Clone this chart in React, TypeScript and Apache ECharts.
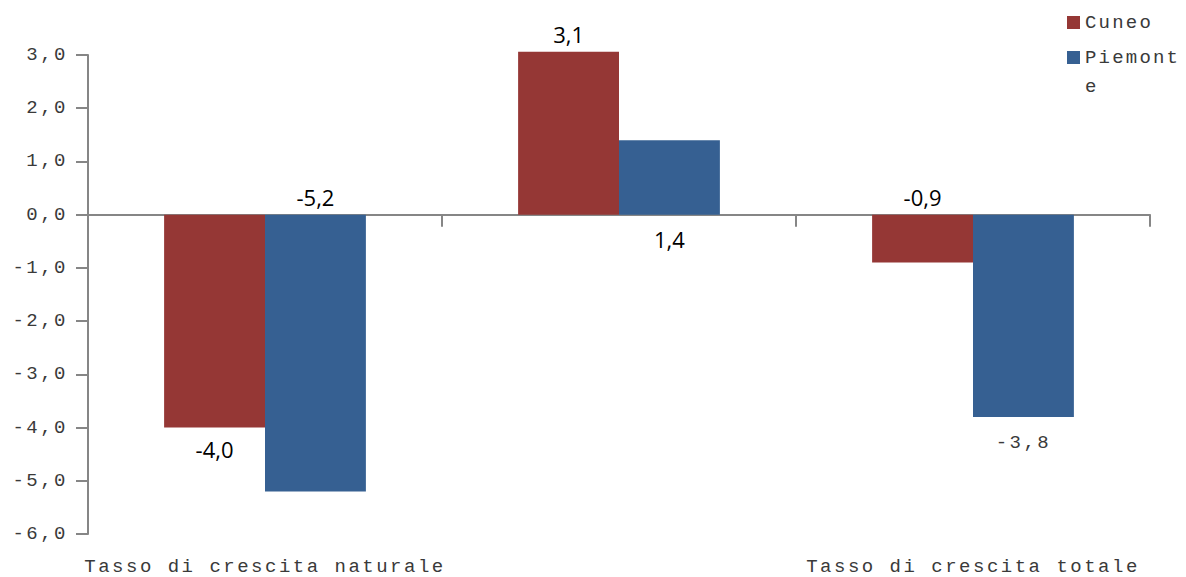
import React, { useEffect, useRef } from "react";
import * as echarts from "echarts";

const categories = ["Tasso di crescita naturale", "", "Tasso di crescita totale"];
const cuneoValues = [-4.0, 3.06, -0.9];
const piemonteValues = [-5.2, 1.4, -3.8];
const yTicks = { min: -6, max: 3, interval: 1 };
const cuneoLabelPos = ["bottom", "top", "top"];
const piemonteLabelPos = ["top", "bottom", "bottom"];
const piemonteLabelMono = [false, false, true];

const MONO = "'Liberation Mono', monospace";
const LEGEND_MONO = "'Liberation Mono', 'DejaVu Sans Mono', monospace";
const SANS = "'Open Sans', 'Noto Sans', sans-serif";
const fmt = (v: number) => (Math.round(v * 10) / 10).toFixed(1).replace(".", ",");

export default function App() {
  const ref = useRef<HTMLDivElement>(null);
  useEffect(() => {
    if (!ref.current) return;
    const chart = echarts.init(ref.current, null, { renderer: "svg" });
    const sansLabel = { fontFamily: SANS, fontSize: 22, color: "#000" };
    const monoLabel = { fontFamily: MONO, fontSize: 19, color: "#3a3a3a" };
    chart.setOption({
      animation: false,
      backgroundColor: "#fff",
      grid: {
        left: 80,
        right: 28,
        top: 47,
        bottom: 43,
        containLabel: false,
        outerBoundsMode: "none",
      },
      legend: {
        orient: "vertical",
        left: 1059,
        top: 0,
        padding: 0,
        itemWidth: 13,
        itemHeight: 13,
        itemGap: -23,
        icon: "rect",
        formatter: (name: string) => (name === "Piemonte" ? "\n" + name : name),
        textStyle: {
          fontFamily: LEGEND_MONO,
          fontSize: 19,
          color: "#3a3a3a",
          width: 84,
          overflow: "breakAll",
          lineHeight: 29,
        },
        data: ["Cuneo", "Piemonte"],
      },
      xAxis: [
        {
          type: "category",
          data: categories,
          axisLine: { onZero: true, lineStyle: { color: "#868686", width: 2 } },
          axisTick: { show: true, length: 12, lineStyle: { color: "#868686", width: 2 } },
          axisLabel: { show: false },
        },
        {
          type: "category",
          data: categories,
          position: "bottom",
          axisLine: { show: false },
          axisTick: { show: false },
          axisLabel: {
            show: true,
            interval: 0,
            margin: 23,
            fontFamily: MONO,
            fontSize: 19,
            color: "#3a3a3a",
          },
        },
      ],
      yAxis: {
        type: "value",
        min: yTicks.min,
        max: yTicks.max,
        interval: yTicks.interval,
        axisLine: { show: true, lineStyle: { color: "#868686", width: 2 } },
        axisTick: { show: true, length: 12, lineStyle: { color: "#868686", width: 2 } },
        splitLine: { show: false },
        axisLabel: {
          margin: 20,
          fontFamily: MONO,
          fontSize: 19,
          color: "#3a3a3a",
          formatter: (v: number) => fmt(v),
        },
      },
      series: [
        {
          name: "Cuneo",
          type: "bar",
          xAxisIndex: 0,
          clip: false,
          barGap: "0%",
          barCategoryGap: "43%",
          itemStyle: { color: "#953735" },
          data: cuneoValues.map((v, i) => ({
            value: v,
            label: {
              show: true,
              position: cuneoLabelPos[i],
              distance: cuneoLabelPos[i] === "bottom" ? 10 : 7,
              formatter: () => fmt(v),
              ...sansLabel,
            },
          })),
        },
        {
          name: "Piemonte",
          type: "bar",
          xAxisIndex: 0,
          clip: false,
          barGap: "0%",
          barCategoryGap: "43%",
          itemStyle: { color: "#366092" },
          data: piemonteValues.map((v, i) => ({
            value: v,
            label: {
              show: true,
              position: piemonteLabelPos[i],
              distance: piemonteLabelMono[i] ? 17 : i === 1 ? 13 : 7,
              formatter: () => fmt(v),
              ...(piemonteLabelMono[i] ? monoLabel : sansLabel),
            },
          })),
        },
      ],
    });
    return () => chart.dispose();
  }, []);
  return (
    <>
      <style>{`.chart-box text[style*="Liberation"] { letter-spacing: 2.5px; }
.chart-box text[style*="DejaVu"] { letter-spacing: 2.2px; }`}</style>
      <div className="chart-box" ref={ref} style={{ width: 1170, height: 569 }} />
    </>
  );
}
